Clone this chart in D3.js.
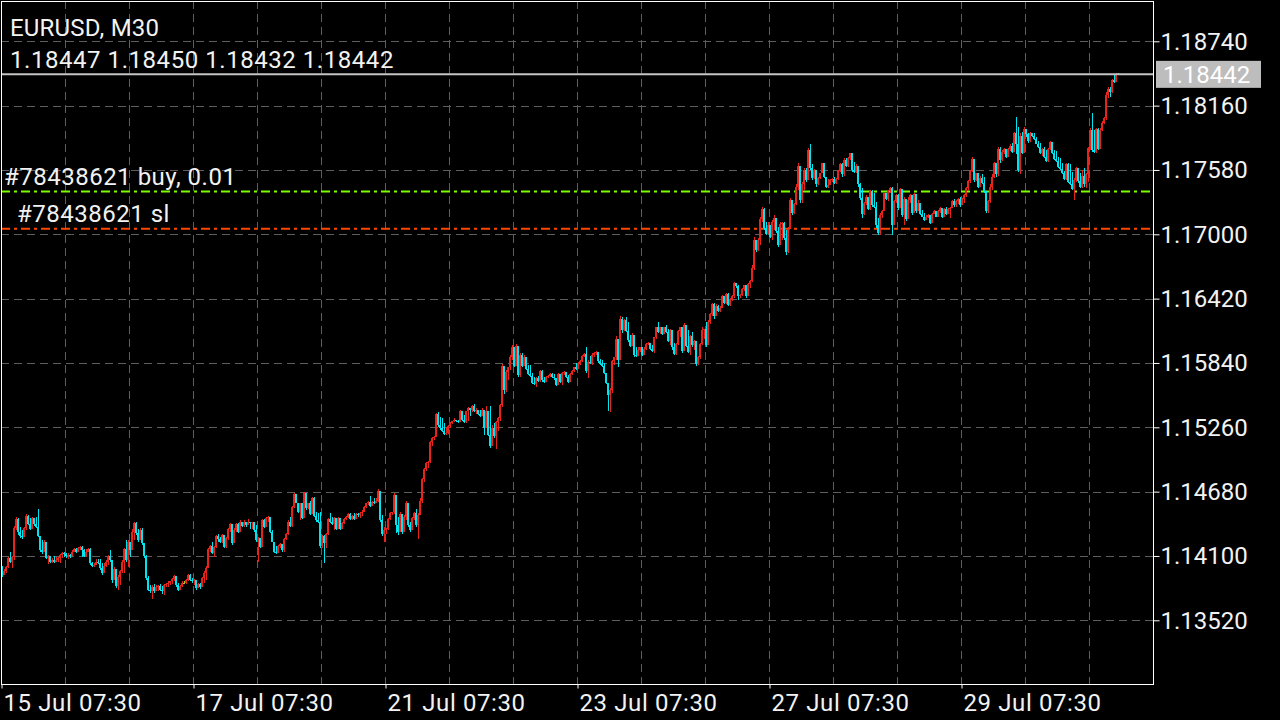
<!DOCTYPE html>
<html><head><meta charset="utf-8">
<script src="https://cdn.jsdelivr.net/npm/d3@7"></script>
<style>html,body{margin:0;padding:0;background:#000;overflow:hidden}svg{display:block}</style>
</head><body><svg id="c" width="1280" height="720"></svg>
<script>
const symbolTitle = "EURUSD, M30";
const lastQuote = [1.18447, 1.18450, 1.18432, 1.18442];
const bidPrice = 1.18442;
const priceTicks = [1.18740, 1.18160, 1.17580, 1.17000, 1.16420, 1.15840, 1.15260, 1.14680, 1.14100, 1.13520];
const dateLabels = ["15 Jul 07:30", "17 Jul 07:30", "21 Jul 07:30", "23 Jul 07:30", "27 Jul 07:30", "29 Jul 07:30"];
const dateLabelBars = [0, 96, 192, 288, 384, 480];
const orderLabels = ["#78438621 buy, 0.01", "#78438621 sl"];
const orderPrices = [1.17385, 1.17050];

const opens = [
1.1399,1.1393,1.1396,1.1400,1.1408,1.1405,1.1409,1.1435,1.1443,1.1432,
1.1428,1.1427,1.1435,1.1446,1.1439,1.1434,1.1444,1.1439,1.1436,1.1428,
1.1415,1.1414,1.1423,1.1408,1.1410,1.1405,1.1406,1.1405,1.1406,1.1408,
1.1411,1.1413,1.1412,1.1410,1.1411,1.1410,1.1414,1.1416,1.1414,1.1417,
1.1418,1.1415,1.1410,1.1414,1.1416,1.1404,1.1401,1.1402,1.1405,1.1404,
1.1399,1.1395,1.1401,1.1405,1.1410,1.1406,1.1388,1.1398,1.1383,1.1391,
1.1396,1.1405,1.1416,1.1406,1.1423,1.1415,1.1432,1.1440,1.1431,1.1424,
1.1433,1.1422,1.1410,1.1390,1.1379,1.1378,1.1382,1.1378,1.1382,1.1383,
1.1379,1.1378,1.1384,1.1385,1.1386,1.1387,1.1389,1.1392,1.1384,1.1379,
1.1383,1.1386,1.1386,1.1388,1.1393,1.1388,1.1387,1.1388,1.1381,1.1385,
1.1382,1.1390,1.1395,1.1399,1.1416,1.1419,1.1413,1.1418,1.1428,1.1425,
1.1423,1.1429,1.1418,1.1426,1.1434,1.1439,1.1422,1.1433,1.1439,1.1432,
1.1441,1.1437,1.1441,1.1438,1.1441,1.1440,1.1441,1.1433,1.1424,1.1426,
1.1418,1.1442,1.1436,1.1444,1.1445,1.1432,1.1423,1.1414,1.1413,1.1419,
1.1421,1.1415,1.1425,1.1430,1.1441,1.1437,1.1454,1.1466,1.1458,1.1450,
1.1458,1.1444,1.1467,1.1453,1.1458,1.1448,1.1462,1.1446,1.1442,1.1441,
1.1419,1.1428,1.1422,1.1430,1.1443,1.1441,1.1439,1.1444,1.1434,1.1444,
1.1434,1.1440,1.1443,1.1445,1.1448,1.1443,1.1446,1.1443,1.1448,1.1447,
1.1449,1.1450,1.1454,1.1458,1.1459,1.1455,1.1459,1.1458,1.1460,1.1469,
1.1442,1.1430,1.1433,1.1434,1.1443,1.1449,1.1450,1.1465,1.1438,1.1432,
1.1448,1.1432,1.1445,1.1458,1.1438,1.1433,1.1444,1.1449,1.1438,1.1447,
1.1460,1.1479,1.1488,1.1494,1.1495,1.1513,1.1516,1.1517,1.1538,1.1528,
1.1525,1.1523,1.1520,1.1521,1.1527,1.1530,1.1532,1.1533,1.1532,1.1531,
1.1541,1.1533,1.1531,1.1541,1.1543,1.1542,1.1545,1.1541,1.1542,1.1538,
1.1536,1.1542,1.1525,1.1541,1.1519,1.1509,1.1525,1.1518,1.1531,1.1534,
1.1546,1.1581,1.1560,1.1576,1.1580,1.1589,1.1598,1.1581,1.1599,1.1573,
1.1591,1.1581,1.1589,1.1579,1.1574,1.1572,1.1566,1.1565,1.1570,1.1568,
1.1577,1.1569,1.1567,1.1571,1.1572,1.1574,1.1571,1.1570,1.1564,1.1574,
1.1567,1.1575,1.1576,1.1571,1.1567,1.1574,1.1577,1.1580,1.1579,1.1584,
1.1586,1.1590,1.1592,1.1577,1.1585,1.1584,1.1591,1.1593,1.1594,1.1586,
1.1583,1.1581,1.1575,1.1566,1.1555,1.1560,1.1586,1.1589,1.1606,1.1587,
1.1624,1.1614,1.1623,1.1613,1.1605,1.1599,1.1609,1.1591,1.1590,1.1596,
1.1598,1.1591,1.1597,1.1601,1.1602,1.1597,1.1595,1.1607,1.1616,1.1612,
1.1616,1.1610,1.1616,1.1612,1.1604,1.1614,1.1598,1.1592,1.1601,1.1613,
1.1616,1.1595,1.1618,1.1599,1.1594,1.1608,1.1600,1.1604,1.1583,1.1589,
1.1601,1.1614,1.1615,1.1600,1.1621,1.1628,1.1637,1.1626,1.1635,1.1631,
1.1634,1.1644,1.1638,1.1646,1.1636,1.1642,1.1644,1.1656,1.1653,1.1644,
1.1645,1.1651,1.1654,1.1644,1.1655,1.1658,1.1670,1.1695,1.1686,1.1695,
1.1714,1.1723,1.1706,1.1700,1.1708,1.1698,1.1711,1.1715,1.1703,1.1690,
1.1709,1.1710,1.1697,1.1684,1.1705,1.1731,1.1719,1.1727,1.1743,1.1762,
1.1731,1.1745,1.1758,1.1749,1.1776,1.1760,1.1751,1.1758,1.1745,1.1751,
1.1755,1.1764,1.1752,1.1743,1.1744,1.1749,1.1750,1.1746,1.1750,1.1757,
1.1763,1.1754,1.1767,1.1762,1.1769,1.1773,1.1758,1.1756,1.1762,1.1745,
1.1733,1.1718,1.1728,1.1734,1.1723,1.1739,1.1726,1.1725,1.1708,1.1701,
1.1717,1.1721,1.1737,1.1732,1.1739,1.1742,1.1708,1.1730,1.1735,1.1724,
1.1741,1.1717,1.1732,1.1714,1.1731,1.1735,1.1719,1.1736,1.1721,1.1728,
1.1718,1.1716,1.1713,1.1716,1.1717,1.1710,1.1718,1.1721,1.1716,1.1721,
1.1724,1.1716,1.1723,1.1718,1.1723,1.1724,1.1730,1.1726,1.1730,1.1732,
1.1726,1.1732,1.1735,1.1742,1.1748,1.1757,1.1768,1.1749,1.1755,1.1743,
1.1751,1.1746,1.1739,1.1721,1.1730,1.1743,1.1752,1.1764,1.1754,1.1777,
1.1767,1.1774,1.1777,1.1770,1.1777,1.1780,1.1774,1.1791,1.1781,1.1758,
1.1789,1.1773,1.1795,1.1790,1.1784,1.1791,1.1789,1.1786,1.1781,1.1779,
1.1773,1.1777,1.1770,1.1766,1.1777,1.1783,1.1773,1.1768,1.1766,1.1761,
1.1759,1.1755,1.1750,1.1763,1.1747,1.1745,1.1741,1.1749,1.1760,1.1748,
1.1743,1.1753,1.1745,1.1754,1.1778,1.1794,1.1776,1.1774,1.1795,1.1777,
1.1794,1.1800,1.1805,1.1826,1.1831,1.1828,1.1839,1.1837,1.18447];

const highs = [
1.1401,1.1398,1.1401,1.1409,1.1414,1.1410,1.1437,1.1445,1.1444,1.1436,
1.1433,1.1436,1.1448,1.1447,1.1444,1.1445,1.1444,1.1445,1.1452,1.1428,
1.1424,1.1424,1.1423,1.1411,1.1410,1.1408,1.1410,1.1409,1.1409,1.1412,
1.1414,1.1414,1.1413,1.1413,1.1412,1.1415,1.1417,1.1417,1.1418,1.1419,
1.1419,1.1416,1.1416,1.1417,1.1417,1.1405,1.1404,1.1407,1.1407,1.1407,
1.1404,1.1404,1.1406,1.1411,1.1415,1.1406,1.1400,1.1398,1.1393,1.1397,
1.1406,1.1417,1.1424,1.1424,1.1419,1.1434,1.1441,1.1441,1.1434,1.1435,
1.1435,1.1422,1.1411,1.1392,1.1384,1.1384,1.1385,1.1384,1.1384,1.1385,
1.1383,1.1385,1.1386,1.1387,1.1387,1.1390,1.1393,1.1392,1.1386,1.1384,
1.1387,1.1387,1.1389,1.1394,1.1394,1.1390,1.1389,1.1388,1.1386,1.1386,
1.1391,1.1396,1.1401,1.1417,1.1420,1.1423,1.1419,1.1429,1.1430,1.1427,
1.1430,1.1427,1.1427,1.1435,1.1440,1.1438,1.1435,1.1440,1.1440,1.1442,
1.1441,1.1442,1.1441,1.1443,1.1441,1.1441,1.1441,1.1438,1.1427,1.1424,
1.1443,1.1443,1.1445,1.1446,1.1445,1.1433,1.1423,1.1419,1.1420,1.1422,
1.1421,1.1426,1.1431,1.1442,1.1445,1.1455,1.1467,1.1466,1.1458,1.1458,
1.1458,1.1468,1.1467,1.1458,1.1460,1.1463,1.1463,1.1450,1.1449,1.1450,
1.1429,1.1429,1.1431,1.1444,1.1449,1.1445,1.1445,1.1444,1.1445,1.1444,
1.1441,1.1444,1.1446,1.1449,1.1449,1.1447,1.1449,1.1449,1.1449,1.1450,
1.1451,1.1455,1.1458,1.1460,1.1464,1.1460,1.1462,1.1462,1.1470,1.1469,
1.1447,1.1436,1.1435,1.1444,1.1450,1.1450,1.1467,1.1465,1.1445,1.1450,
1.1448,1.1447,1.1460,1.1458,1.1441,1.1445,1.1450,1.1452,1.1449,1.1462,
1.1480,1.1489,1.1495,1.1496,1.1514,1.1517,1.1518,1.1539,1.1540,1.1535,
1.1534,1.1530,1.1526,1.1528,1.1531,1.1532,1.1534,1.1533,1.1533,1.1542,
1.1541,1.1537,1.1541,1.1544,1.1543,1.1546,1.1547,1.1543,1.1542,1.1542,
1.1543,1.1542,1.1545,1.1541,1.1545,1.1528,1.1530,1.1532,1.1535,1.1547,
1.1583,1.1579,1.1578,1.1580,1.1591,1.1600,1.1597,1.1601,1.1599,1.1593,
1.1593,1.1591,1.1589,1.1582,1.1582,1.1575,1.1571,1.1571,1.1572,1.1578,
1.1578,1.1571,1.1572,1.1573,1.1575,1.1575,1.1574,1.1570,1.1575,1.1572,
1.1576,1.1577,1.1576,1.1573,1.1575,1.1578,1.1580,1.1584,1.1585,1.1587,
1.1591,1.1593,1.1598,1.1587,1.1590,1.1593,1.1594,1.1595,1.1594,1.1588,
1.1587,1.1584,1.1575,1.1566,1.1561,1.1587,1.1589,1.1608,1.1605,1.1626,
1.1625,1.1624,1.1625,1.1621,1.1609,1.1611,1.1609,1.1598,1.1598,1.1598,
1.1597,1.1598,1.1602,1.1603,1.1602,1.1600,1.1607,1.1616,1.1621,1.1616,
1.1616,1.1616,1.1618,1.1615,1.1615,1.1609,1.1602,1.1602,1.1614,1.1616,
1.1616,1.1620,1.1615,1.1614,1.1609,1.1612,1.1605,1.1604,1.1590,1.1602,
1.1616,1.1615,1.1621,1.1623,1.1629,1.1638,1.1638,1.1637,1.1636,1.1635,
1.1645,1.1644,1.1647,1.1647,1.1643,1.1645,1.1657,1.1656,1.1654,1.1646,
1.1652,1.1654,1.1654,1.1656,1.1659,1.1672,1.1698,1.1695,1.1697,1.1716,
1.1725,1.1724,1.1711,1.1711,1.1708,1.1713,1.1717,1.1715,1.1707,1.1711,
1.1711,1.1711,1.1704,1.1707,1.1733,1.1731,1.1728,1.1745,1.1764,1.1762,
1.1747,1.1760,1.1760,1.1778,1.1781,1.1763,1.1759,1.1758,1.1752,1.1755,
1.1764,1.1764,1.1752,1.1750,1.1750,1.1751,1.1752,1.1751,1.1758,1.1764,
1.1764,1.1769,1.1769,1.1770,1.1773,1.1773,1.1765,1.1763,1.1762,1.1746,
1.1742,1.1729,1.1735,1.1734,1.1740,1.1740,1.1737,1.1729,1.1715,1.1719,
1.1722,1.1737,1.1737,1.1740,1.1743,1.1743,1.1731,1.1736,1.1736,1.1742,
1.1741,1.1734,1.1732,1.1734,1.1736,1.1735,1.1737,1.1736,1.1731,1.1728,
1.1722,1.1719,1.1717,1.1718,1.1717,1.1719,1.1722,1.1721,1.1722,1.1725,
1.1724,1.1724,1.1725,1.1724,1.1725,1.1731,1.1732,1.1731,1.1733,1.1734,
1.1733,1.1736,1.1743,1.1749,1.1758,1.1770,1.1768,1.1755,1.1755,1.1753,
1.1754,1.1752,1.1739,1.1731,1.1745,1.1754,1.1765,1.1764,1.1779,1.1779,
1.1776,1.1778,1.1777,1.1778,1.1781,1.1782,1.1792,1.1806,1.1797,1.1791,
1.1792,1.1797,1.1795,1.1791,1.1792,1.1791,1.1791,1.1788,1.1784,1.1782,
1.1778,1.1779,1.1776,1.1778,1.1784,1.1783,1.1776,1.1775,1.1770,1.1769,
1.1764,1.1757,1.1764,1.1764,1.1763,1.1756,1.1751,1.1761,1.1760,1.1755,
1.1758,1.1760,1.1755,1.1779,1.1796,1.1809,1.1794,1.1796,1.1796,1.1796,
1.1802,1.1806,1.1828,1.1833,1.1833,1.1840,1.1844,1.18450,1.18450];

const lows = [
1.1391,1.1393,1.1395,1.1399,1.1404,1.1399,1.1406,1.1433,1.1429,1.1426,
1.1425,1.1427,1.1433,1.1438,1.1433,1.1434,1.1437,1.1435,1.1427,1.1414,
1.1412,1.1414,1.1407,1.1403,1.1404,1.1404,1.1404,1.1405,1.1405,1.1404,
1.1408,1.1409,1.1408,1.1407,1.1408,1.1410,1.1414,1.1413,1.1414,1.1415,
1.1409,1.1409,1.1409,1.1414,1.1402,1.1400,1.1400,1.1402,1.1403,1.1397,
1.1393,1.1395,1.1400,1.1402,1.1405,1.1386,1.1388,1.1381,1.1379,1.1384,
1.1395,1.1395,1.1405,1.1400,1.1409,1.1415,1.1424,1.1429,1.1423,1.1424,
1.1420,1.1408,1.1388,1.1378,1.1377,1.1371,1.1377,1.1378,1.1378,1.1378,
1.1376,1.1375,1.1382,1.1382,1.1384,1.1385,1.1387,1.1382,1.1378,1.1379,
1.1382,1.1385,1.1385,1.1387,1.1387,1.1386,1.1384,1.1379,1.1381,1.1380,
1.1382,1.1386,1.1388,1.1399,1.1414,1.1412,1.1409,1.1417,1.1423,1.1422,
1.1422,1.1417,1.1417,1.1424,1.1432,1.1420,1.1422,1.1432,1.1431,1.1432,
1.1436,1.1436,1.1436,1.1438,1.1434,1.1434,1.1432,1.1423,1.1405,1.1417,
1.1418,1.1435,1.1436,1.1441,1.1431,1.1423,1.1413,1.1412,1.1413,1.1417,
1.1414,1.1414,1.1424,1.1429,1.1436,1.1436,1.1453,1.1458,1.1449,1.1442,
1.1443,1.1444,1.1451,1.1452,1.1447,1.1448,1.1445,1.1441,1.1440,1.1417,
1.1417,1.1404,1.1417,1.1429,1.1440,1.1438,1.1433,1.1433,1.1434,1.1433,
1.1434,1.1439,1.1442,1.1444,1.1442,1.1442,1.1442,1.1443,1.1445,1.1444,
1.1446,1.1450,1.1453,1.1456,1.1454,1.1455,1.1457,1.1458,1.1459,1.1441,
1.1428,1.1423,1.1430,1.1433,1.1442,1.1447,1.1448,1.1431,1.1429,1.1432,
1.1430,1.1432,1.1442,1.1436,1.1432,1.1433,1.1442,1.1436,1.1425,1.1447,
1.1458,1.1477,1.1487,1.1489,1.1494,1.1509,1.1515,1.1517,1.1526,1.1524,
1.1522,1.1519,1.1519,1.1520,1.1525,1.1529,1.1531,1.1531,1.1530,1.1531,
1.1532,1.1530,1.1530,1.1532,1.1536,1.1540,1.1540,1.1538,1.1537,1.1535,
1.1536,1.1519,1.1525,1.1518,1.1507,1.1509,1.1516,1.1506,1.1523,1.1532,
1.1544,1.1556,1.1558,1.1569,1.1578,1.1587,1.1580,1.1581,1.1571,1.1571,
1.1580,1.1581,1.1578,1.1573,1.1571,1.1565,1.1564,1.1562,1.1567,1.1567,
1.1567,1.1566,1.1567,1.1570,1.1571,1.1570,1.1569,1.1563,1.1564,1.1566,
1.1564,1.1573,1.1570,1.1566,1.1567,1.1573,1.1576,1.1578,1.1579,1.1582,
1.1585,1.1589,1.1575,1.1570,1.1583,1.1582,1.1589,1.1591,1.1584,1.1582,
1.1580,1.1574,1.1565,1.1541,1.1540,1.1557,1.1582,1.1587,1.1580,1.1587,
1.1611,1.1613,1.1612,1.1603,1.1598,1.1599,1.1589,1.1589,1.1590,1.1594,
1.1590,1.1591,1.1596,1.1600,1.1596,1.1594,1.1593,1.1606,1.1611,1.1610,
1.1609,1.1610,1.1611,1.1603,1.1600,1.1596,1.1591,1.1591,1.1600,1.1607,
1.1593,1.1595,1.1598,1.1593,1.1591,1.1598,1.1596,1.1581,1.1582,1.1588,
1.1600,1.1606,1.1598,1.1600,1.1619,1.1626,1.1624,1.1626,1.1630,1.1630,
1.1634,1.1637,1.1637,1.1635,1.1635,1.1640,1.1643,1.1652,1.1641,1.1643,
1.1644,1.1649,1.1643,1.1644,1.1652,1.1657,1.1668,1.1684,1.1685,1.1690,
1.1711,1.1704,1.1699,1.1700,1.1697,1.1695,1.1704,1.1701,1.1689,1.1690,
1.1695,1.1695,1.1681,1.1683,1.1705,1.1717,1.1718,1.1726,1.1740,1.1728,
1.1728,1.1740,1.1747,1.1749,1.1758,1.1749,1.1750,1.1743,1.1744,1.1750,
1.1755,1.1751,1.1742,1.1742,1.1744,1.1747,1.1745,1.1745,1.1749,1.1756,
1.1752,1.1753,1.1761,1.1761,1.1767,1.1756,1.1755,1.1755,1.1743,1.1731,
1.1715,1.1717,1.1726,1.1722,1.1722,1.1725,1.1724,1.1706,1.1699,1.1699,
1.1715,1.1721,1.1731,1.1730,1.1737,1.1699,1.1708,1.1728,1.1722,1.1724,
1.1716,1.1708,1.1712,1.1714,1.1728,1.1717,1.1719,1.1719,1.1721,1.1717,
1.1716,1.1712,1.1713,1.1715,1.1709,1.1710,1.1718,1.1716,1.1716,1.1719,
1.1715,1.1716,1.1717,1.1718,1.1715,1.1724,1.1725,1.1725,1.1727,1.1725,
1.1726,1.1728,1.1734,1.1740,1.1746,1.1756,1.1747,1.1748,1.1742,1.1743,
1.1745,1.1737,1.1719,1.1719,1.1728,1.1740,1.1751,1.1752,1.1753,1.1764,
1.1766,1.1772,1.1769,1.1770,1.1775,1.1773,1.1774,1.1772,1.1756,1.1754,
1.1772,1.1773,1.1788,1.1782,1.1783,1.1788,1.1785,1.1781,1.1778,1.1772,
1.1771,1.1769,1.1765,1.1765,1.1776,1.1772,1.1767,1.1765,1.1760,1.1758,
1.1754,1.1749,1.1749,1.1746,1.1744,1.1740,1.1731,1.1747,1.1746,1.1742,
1.1742,1.1743,1.1742,1.1747,1.1776,1.1774,1.1773,1.1773,1.1776,1.1777,
1.1793,1.1799,1.1803,1.1823,1.1824,1.1827,1.1836,1.1837,1.18432];

const closes = [
1.1393,1.1396,1.1400,1.1408,1.1405,1.1409,1.1435,1.1443,1.1432,1.1428,
1.1427,1.1435,1.1446,1.1439,1.1434,1.1444,1.1439,1.1436,1.1428,1.1415,
1.1414,1.1423,1.1408,1.1410,1.1405,1.1406,1.1405,1.1406,1.1408,1.1411,
1.1413,1.1412,1.1410,1.1411,1.1410,1.1414,1.1416,1.1414,1.1417,1.1418,
1.1415,1.1410,1.1414,1.1416,1.1404,1.1401,1.1402,1.1405,1.1404,1.1399,
1.1395,1.1401,1.1405,1.1410,1.1406,1.1388,1.1398,1.1383,1.1391,1.1396,
1.1405,1.1416,1.1406,1.1423,1.1415,1.1432,1.1440,1.1431,1.1424,1.1433,
1.1422,1.1410,1.1390,1.1379,1.1378,1.1382,1.1378,1.1382,1.1383,1.1379,
1.1378,1.1384,1.1385,1.1386,1.1387,1.1389,1.1392,1.1384,1.1379,1.1383,
1.1386,1.1386,1.1388,1.1393,1.1388,1.1387,1.1388,1.1381,1.1385,1.1382,
1.1390,1.1395,1.1399,1.1416,1.1419,1.1413,1.1418,1.1428,1.1425,1.1423,
1.1429,1.1418,1.1426,1.1434,1.1439,1.1422,1.1433,1.1439,1.1432,1.1441,
1.1437,1.1441,1.1438,1.1441,1.1440,1.1441,1.1433,1.1424,1.1426,1.1418,
1.1442,1.1436,1.1444,1.1445,1.1432,1.1423,1.1414,1.1413,1.1419,1.1421,
1.1415,1.1425,1.1430,1.1441,1.1437,1.1454,1.1466,1.1458,1.1450,1.1458,
1.1444,1.1467,1.1453,1.1458,1.1448,1.1462,1.1446,1.1442,1.1441,1.1419,
1.1428,1.1422,1.1430,1.1443,1.1441,1.1439,1.1444,1.1434,1.1444,1.1434,
1.1440,1.1443,1.1445,1.1448,1.1443,1.1446,1.1443,1.1448,1.1447,1.1449,
1.1450,1.1454,1.1458,1.1459,1.1455,1.1459,1.1458,1.1460,1.1469,1.1442,
1.1430,1.1433,1.1434,1.1443,1.1449,1.1450,1.1465,1.1438,1.1432,1.1448,
1.1432,1.1445,1.1458,1.1438,1.1433,1.1444,1.1449,1.1438,1.1447,1.1460,
1.1479,1.1488,1.1494,1.1495,1.1513,1.1516,1.1517,1.1538,1.1528,1.1525,
1.1523,1.1520,1.1521,1.1527,1.1530,1.1532,1.1533,1.1532,1.1531,1.1541,
1.1533,1.1531,1.1541,1.1543,1.1542,1.1545,1.1541,1.1542,1.1538,1.1536,
1.1542,1.1525,1.1541,1.1519,1.1509,1.1525,1.1518,1.1531,1.1534,1.1546,
1.1581,1.1560,1.1576,1.1580,1.1589,1.1598,1.1581,1.1599,1.1573,1.1591,
1.1581,1.1589,1.1579,1.1574,1.1572,1.1566,1.1565,1.1570,1.1568,1.1577,
1.1569,1.1567,1.1571,1.1572,1.1574,1.1571,1.1570,1.1564,1.1574,1.1567,
1.1575,1.1576,1.1571,1.1567,1.1574,1.1577,1.1580,1.1579,1.1584,1.1586,
1.1590,1.1592,1.1577,1.1585,1.1584,1.1591,1.1593,1.1594,1.1586,1.1583,
1.1581,1.1575,1.1566,1.1555,1.1560,1.1586,1.1589,1.1606,1.1587,1.1624,
1.1614,1.1623,1.1613,1.1605,1.1599,1.1609,1.1591,1.1590,1.1596,1.1598,
1.1591,1.1597,1.1601,1.1602,1.1597,1.1595,1.1607,1.1616,1.1612,1.1616,
1.1610,1.1616,1.1612,1.1604,1.1614,1.1598,1.1592,1.1601,1.1613,1.1616,
1.1595,1.1618,1.1599,1.1594,1.1608,1.1600,1.1604,1.1583,1.1589,1.1601,
1.1614,1.1615,1.1600,1.1621,1.1628,1.1637,1.1626,1.1635,1.1631,1.1634,
1.1644,1.1638,1.1646,1.1636,1.1642,1.1644,1.1656,1.1653,1.1644,1.1645,
1.1651,1.1654,1.1644,1.1655,1.1658,1.1670,1.1695,1.1686,1.1695,1.1714,
1.1723,1.1706,1.1700,1.1708,1.1698,1.1711,1.1715,1.1703,1.1690,1.1709,
1.1710,1.1697,1.1684,1.1705,1.1731,1.1719,1.1727,1.1743,1.1762,1.1731,
1.1745,1.1758,1.1749,1.1776,1.1760,1.1751,1.1758,1.1745,1.1751,1.1755,
1.1764,1.1752,1.1743,1.1744,1.1749,1.1750,1.1746,1.1750,1.1757,1.1763,
1.1754,1.1767,1.1762,1.1769,1.1773,1.1758,1.1756,1.1762,1.1745,1.1733,
1.1718,1.1728,1.1734,1.1723,1.1739,1.1726,1.1725,1.1708,1.1701,1.1717,
1.1721,1.1737,1.1732,1.1739,1.1742,1.1708,1.1730,1.1735,1.1724,1.1741,
1.1717,1.1732,1.1714,1.1731,1.1735,1.1719,1.1736,1.1721,1.1728,1.1718,
1.1716,1.1713,1.1716,1.1717,1.1710,1.1718,1.1721,1.1716,1.1721,1.1724,
1.1716,1.1723,1.1718,1.1723,1.1724,1.1730,1.1726,1.1730,1.1732,1.1726,
1.1732,1.1735,1.1742,1.1748,1.1757,1.1768,1.1749,1.1755,1.1743,1.1751,
1.1746,1.1739,1.1721,1.1730,1.1743,1.1752,1.1764,1.1754,1.1777,1.1767,
1.1774,1.1777,1.1770,1.1777,1.1780,1.1774,1.1791,1.1781,1.1758,1.1789,
1.1773,1.1795,1.1790,1.1784,1.1791,1.1789,1.1786,1.1781,1.1779,1.1773,
1.1777,1.1770,1.1766,1.1777,1.1783,1.1773,1.1768,1.1766,1.1761,1.1759,
1.1755,1.1750,1.1763,1.1747,1.1745,1.1741,1.1749,1.1760,1.1748,1.1743,
1.1753,1.1745,1.1754,1.1778,1.1794,1.1776,1.1774,1.1795,1.1777,1.1794,
1.1800,1.1805,1.1826,1.1831,1.1828,1.1839,1.1837,1.18447,1.18442];

// ---------- drawing ----------
const W = 1280, H = 720;
const L = 1, T = 1, R = 1153, B = 684;
const FONT = "Roboto, 'Noto Sans', sans-serif";
const TXT = "#f2f2f2";
const UP = "#e8231b", DOWN = "#00e4ef", DOJI = "#9acd32";

const svg = d3.select("#c");
svg.append("rect").attr("width", W).attr("height", H).attr("fill", "#000");

const y = d3.scaleLinear()
  .domain([d3.min(priceTicks), d3.max(priceTicks)])
  .range([620.3, 41.3]);
const x = d3.scaleLinear().domain([0, 32]).range([1, 65]);

// grid
const grid = svg.append("g").attr("stroke", "#5e5e5e").attr("stroke-width", 1)
  .attr("stroke-dasharray", "8,5").attr("shape-rendering", "crispEdges");
grid.selectAll("line.h").data(priceTicks).join("line").attr("class", "h")
  .attr("x1", L).attr("x2", R)
  .attr("y1", d => Math.round(y(d)) + 0.5).attr("y2", d => Math.round(y(d)) + 0.5);
grid.selectAll("line.v").data(d3.range(32, closes.length, 32)).join("line").attr("class", "v")
  .attr("x1", d => Math.round(x(d)) + 0.5).attr("x2", d => Math.round(x(d)) + 0.5)
  .attr("y1", T).attr("y2", B);

// order lines
const orderColors = ["#7cfc00", "#ff4500"];
svg.append("g").selectAll("line").data(orderPrices).join("line")
  .attr("x1", L).attr("x2", R)
  .attr("y1", d => y(d)).attr("y2", d => y(d))
  .attr("stroke", (d, i) => orderColors[i]).attr("stroke-width", 2)
  .attr("stroke-dasharray", "9,4,3,4");

// candles
const idx = d3.range(closes.length);
const cg = svg.append("g").attr("shape-rendering", "crispEdges");
const col = i => closes[i] > opens[i] ? UP : (closes[i] < opens[i] ? DOWN : DOJI);
cg.selectAll("rect.w").data(idx).join("rect").attr("class", "w")
  .attr("x", i => x(i) + 1).attr("width", 1)
  .attr("y", i => y(Math.max(highs[i], opens[i], closes[i])))
  .attr("height", i => Math.max(1, y(Math.min(lows[i], opens[i], closes[i])) - y(Math.max(highs[i], opens[i], closes[i]))))
  .attr("fill", col);
cg.selectAll("rect.b").data(idx).join("rect").attr("class", "b")
  .attr("x", i => x(i)).attr("width", 2)
  .attr("y", i => y(Math.max(opens[i], closes[i])))
  .attr("height", i => Math.max(1, Math.abs(y(opens[i]) - y(closes[i]))))
  .attr("fill", col);

// bid line
svg.append("line").attr("x1", L).attr("x2", R)
  .attr("y1", y(bidPrice)).attr("y2", y(bidPrice))
  .attr("stroke", "#c4c4c4").attr("stroke-width", 2);

// frame
svg.append("rect").attr("x", L + 0.5).attr("y", T + 0.5)
  .attr("width", R - L).attr("height", B - T)
  .attr("fill", "none").attr("stroke", "#ffffff").attr("stroke-width", 1)
  .attr("shape-rendering", "crispEdges");

// right price axis
const ya = svg.append("g").attr("transform", `translate(${R + 0.5},0)`)
  .call(d3.axisRight(y).tickValues(priceTicks).tickFormat(d3.format(".5f"))
    .tickSize(6).tickSizeOuter(0).tickPadding(1));
ya.select(".domain").remove();
ya.selectAll("line").attr("stroke", "#ffffff");
ya.selectAll("text").attr("fill", TXT).attr("font-family", FONT).attr("font-size", 24)
  .attr("dy", "0.33em");

// bid label
const by = y(bidPrice);
svg.append("rect").attr("x", 1156).attr("y", by - 13.5).attr("width", 105).attr("height", 27)
  .attr("fill", "#bdbdbd");
svg.append("text").attr("x", 1163).attr("y", by + 8.5).text(d3.format(".5f")(bidPrice))
  .attr("fill", "#ffffff").attr("font-family", FONT).attr("font-size", 24);

// bottom time axis
const xa = svg.append("g").attr("transform", `translate(0,${B + 0.5})`)
  .call(d3.axisBottom(x).tickValues(dateLabelBars).tickFormat((d, i) => dateLabels[i])
    .tickSize(4).tickSizeOuter(0));
xa.select(".domain").remove();
xa.selectAll("line").attr("stroke", "#ffffff").attr("transform", "translate(0.5,0)");
xa.selectAll("text").attr("fill", TXT).attr("font-family", FONT).attr("font-size", 24)
  .attr("text-anchor", "start").attr("x", 2).attr("y", 26).attr("dy", 0)
  .attr("letter-spacing", "0.6px");

// header texts
const tg = svg.append("g").attr("fill", TXT).attr("font-family", FONT).attr("font-size", 24);
tg.append("text").attr("x", 10).attr("y", 36).attr("letter-spacing", "0.2px").text(symbolTitle);
tg.append("text").attr("x", 10).attr("y", 67.5).attr("letter-spacing", "0.55px")
  .text(lastQuote.map(d3.format(".5f")).join(" "));
const orderLabelX = [4, 17];
tg.selectAll("text.ord").data(orderLabels).join("text").attr("class", "ord")
  .attr("x", (d, i) => orderLabelX[i]).attr("y", (d, i) => y(orderPrices[i]) - 7)
  .attr("letter-spacing", "0.5px")
  .text(d => d);
</script>
</body></html>
